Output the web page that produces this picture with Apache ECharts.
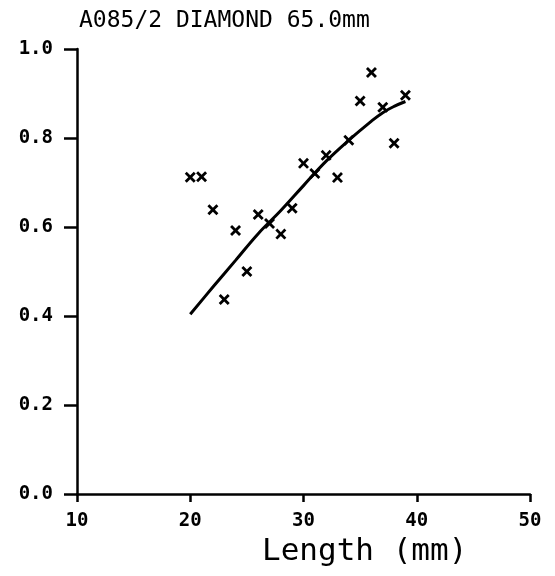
<!DOCTYPE html>
<html><head><meta charset="utf-8">
<script src="https://cdn.jsdelivr.net/npm/echarts@6/dist/echarts.min.js"></script>
<style>html,body{margin:0;padding:0;background:#fff}#c{width:555px;height:576px}</style>
</head><body><div id="c"></div>
<script>
const titleText = 'A085/2 DIAMOND 65.0mm';
const xAxisName = 'Length (mm)';
const lengths = [20,21,22,23,24,25,26,27,28,29,30,31,32,33,34,35,36,37,38,39];
const values  = [0.712,0.713,0.639,0.437,0.592,0.500,0.628,0.608,0.584,0.642,0.743,0.720,0.761,0.711,0.795,0.883,0.947,0.869,0.788,0.896];
const fitX = [20,22,24,26,28,30,32,34,36,37,38,39];
const fitY = [0.404,0.465,0.525,0.585,0.637,0.693,0.748,0.795,0.838,0.857,0.871,0.882];
const xTicks = [10,20,30,40,50];
const yTicks = [0.0,0.2,0.4,0.6,0.8,1.0];

const font = 'DejaVu Sans Mono';
const cross = 'path://M0,1.8L1.8,0L5,3.2L8.2,0L10,1.8L6.8,5L10,8.2L8.2,10L5,6.8L1.8,10L0,8.2L3.2,5Z';

const chart = echarts.init(document.getElementById('c'), null, {renderer:'canvas'});
chart.setOption({
  backgroundColor:'#fff',
  animation:false,
  title:{text:titleText,left:74,top:5,textStyle:{fontFamily:font,fontSize:23,fontWeight:'normal',color:'#000'}},
  grid:{left:77,right:25,top:49,bottom:82},
  xAxis:{type:'value',min:xTicks[0],max:xTicks[xTicks.length-1],interval:10,
    axisLine:{lineStyle:{color:'#000',width:2.5}},
    axisTick:{show:true,length:8,lineStyle:{color:'#000',width:2.5}},
    axisLabel:{color:'#000',fontFamily:font,fontSize:19,fontWeight:'bold',margin:18},
    splitLine:{show:false}},
  yAxis:{type:'value',min:yTicks[0],max:yTicks[yTicks.length-1],interval:0.2,
    axisLine:{show:true,lineStyle:{color:'#000',width:2.5}},
    axisTick:{show:true,length:13,lineStyle:{color:'#000',width:2.5}},
    axisLabel:{color:'#000',fontFamily:font,fontSize:19,fontWeight:'bold',margin:24,formatter:v=>v.toFixed(1)},
    splitLine:{show:false}},
  graphic:[{type:'text',left:262,top:536,style:{text:xAxisName,fontFamily:font,fontSize:31,fill:'#000'}}],
  series:[
    {type:'line',data:fitX.map((x,i)=>[x,fitY[i]]),smooth:0.4,showSymbol:false,
      lineStyle:{color:'#000',width:3}},
    {type:'scatter',data:lengths.map((x,i)=>[x,values[i]]),symbol:cross,symbolSize:11,
      itemStyle:{color:'#000',opacity:1}}
  ]
});
</script></body></html>
